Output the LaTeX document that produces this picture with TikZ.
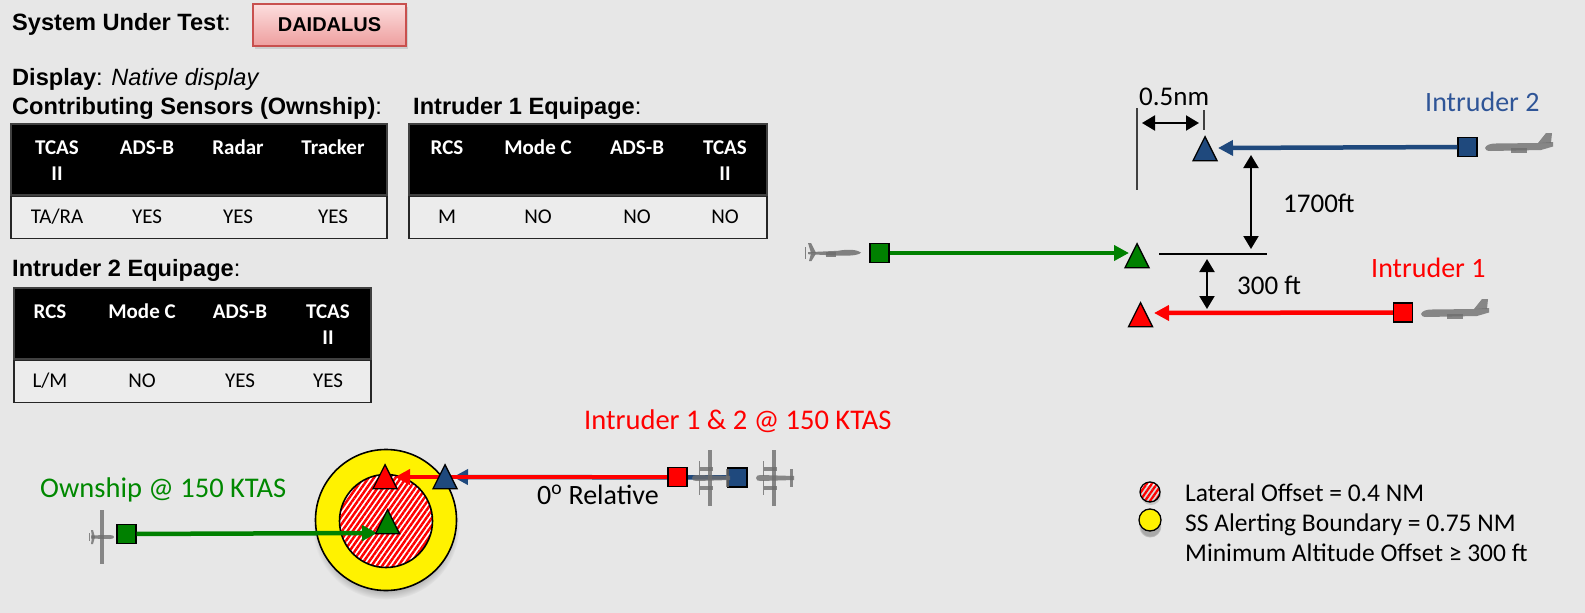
\documentclass[tikz,border=0pt]{standalone}
\usepackage{fontspec}
\setmainfont{Carlito}
\newfontfamily\arialfont{Liberation Sans}
\usetikzlibrary{arrows.meta,shapes.geometric,patterns.meta,shadows}

\definecolor{pagebg}{RGB}{231,231,231}
\definecolor{rowbg}{RGB}{236,236,236}
\definecolor{owngreen}{RGB}{0,128,0}
\definecolor{owntext}{RGB}{0,136,0}
\definecolor{intred}{RGB}{255,0,0}
\definecolor{intblue}{RGB}{31,73,125}
\definecolor{intbluetext}{RGB}{47,85,151}
\definecolor{sutedge}{RGB}{200,80,78}
\definecolor{suttop}{RGB}{252,222,222}
\definecolor{sutbot}{RGB}{238,158,158}
\definecolor{icongray}{RGB}{110,110,110}

\newcommand\arialhead{\arialfont\fontsize{23.6}{28}\selectfont}
\newcommand\cellfont{\fontsize{21}{25}\selectfont}
\newcommand\lblfont{\fontsize{27}{32}\selectfont}
\newcommand\namefont{\fontsize{28.5}{33}\selectfont}
\newcommand\legfont{\fontsize{25.5}{30}\selectfont}

\tikzset{
  heading/.style={inner sep=0, anchor=base west, font=\arialhead},
  sutbox/.style={draw=sutedge, line width=1.5pt, top color=suttop, bottom color=sutbot,
    minimum width=153pt, minimum height=42pt, inner sep=0,
    font=\arialfont\bfseries\fontsize{20}{24}\selectfont,
    drop shadow={opacity=0.25, shadow xshift=2pt, shadow yshift=-3pt}},
  headrow/.style={fill=black, draw=black!75, line width=1.5pt, anchor=north west,
    inner sep=0, minimum height=71pt},
  datarow/.style={fill=rowbg, draw=black!85, line width=1.8pt, anchor=north west,
    inner sep=0, minimum height=42pt},
  hcell/.style={inner sep=0, anchor=base, text=white, font=\cellfont\bfseries},
  dcell/.style={inner sep=0, anchor=base, text=black, font=\cellfont},
  sq/.style={draw=black, line width=1.3pt, minimum size=19pt, inner sep=0},
  tri/.style={draw=black, line width=1.3pt, isosceles triangle, isosceles triangle stretches,
    shape border rotate=90, minimum width=24pt, minimum height=24pt, inner sep=0, anchor=apex},
  track/.style={line width=4.5pt, -{Triangle[length=15pt,width=15pt]}},
  dimarrow/.style={line width=2pt, {Triangle[length=13pt,width=15pt]}-{Triangle[length=13pt,width=15pt]}},
  refline/.style={line width=1.6pt, draw=black!75},
  lbl/.style={inner sep=0, anchor=base west, font=\lblfont},
  leg/.style={inner sep=0, anchor=base west, font=\legfont},
  ssring/.style={circle, draw=black, line width=1.6pt, fill=yellow, inner sep=0,
    circular drop shadow={shadow xshift=0pt, shadow yshift=-6pt, shadow scale=1.04, opacity=0.6}},
  lathatch/.style={circle, draw=black, line width=1.6pt, inner sep=0, preaction={fill=white},
    pattern={Lines[angle=55,distance=4.4pt,line width=2.5pt]}, pattern color=red},
  % aircraft silhouettes
  pics/drone side/.style={code={
    \begin{scope}[fill=icongray, opacity=.85]
      \fill (-24,-0.8) -- (6,-2.2) .. controls (16,-4) and (25,-3.5) .. (29,-0.5)
            .. controls (27,2.5) and (16,3) .. (6,2.6) -- (-24,1.2) -- cycle;
      \fill (-21,0) -- (-24,-10) -- (-21,-10) -- (-16,0) -- cycle;
      \fill (-21,0.5) -- (-23,8) -- (-20.5,8) -- (-16,0.5) -- cycle;
      \fill (-27,-6) rectangle (-25.6,6);
      \fill (-6,-1.5) rectangle (4,3.5);
    \end{scope}}},
  pics/plane side/.style={code={
    \begin{scope}[fill=icongray, opacity=.8]
      \fill (-34,3) .. controls (-33,0) and (-29,-1.5) .. (-23,-1.5) -- (20,-2) -- (34,-3)
            -- (34,1.5) -- (22,5) -- (-28,6) .. controls (-32,6) and (-34,5) .. (-34,3) -- cycle;
      \fill (19,-2) -- (27,-12) -- (33,-12) -- (32,-2) -- cycle;
      \fill (-8,3) rectangle (8,7.5);
    \end{scope}}},
  pics/plane top/.style={code={
    \begin{scope}[fill=icongray, opacity=.8]
      \fill (-21,0) .. controls (-21,-2.5) and (-19,-3) .. (-16,-3) -- (17,-2) -- (17,2)
            -- (-16,3) .. controls (-19,3) and (-21,2.5) .. (-21,0) -- cycle;
      \fill (-5.5,-28) rectangle (-1.5,28);
      \fill (-13,-11.5) rectangle (0,-7.5);
      \fill (-13,7.5) rectangle (0,11.5);
      \fill (-14,-17) rectangle (-12.8,-2);
      \fill (-14,2) rectangle (-12.8,17);
      \fill (13,-9) rectangle (16,9);
    \end{scope}}},
  pics/drone top/.style={code={
    \begin{scope}[fill=icongray, opacity=.8]
      \fill (-1.8,-27) rectangle (1.8,27);
      \fill (-11,-1.6) -- (8,-2) .. controls (11,-2) and (12,-1) .. (12,0)
            .. controls (12,1) and (11,2) .. (8,2) -- (-11,1.6) -- cycle;
      \fill (-11,-7) -- (-9,-7) -- (-7,0) -- (-9,7) -- (-11,7) -- (-10,0) -- cycle;
      \fill (-13,-4) rectangle (-12,4);
    \end{scope}}},
}

\begin{document}
\begin{tikzpicture}[x=1pt,y=-1pt]
\useasboundingbox[fill=pagebg] (0,0) rectangle (1585,613);

% ---------- headings ----------
\node[heading] (sut) at (12,30.5) {\textbf{System Under Test}:};
\node[sutbox] (dai) at (329.5,25) {DAIDALUS};
\node[heading] (disp) at (12,85) {\textbf{Display}: \textit{Native display}};
\node[heading] (sens) at (12,114) {\textbf{Contributing Sensors (Ownship)}:};
\node[heading] (eq1) at (413,114) {\textbf{Intruder 1 Equipage}:};
\node[heading] (eq2) at (12,276) {\textbf{Intruder 2 Equipage}:};

% ---------- ownship sensors table ----------
\node[headrow, minimum width=376pt] (t1h) at (10,123) {};
\node[datarow, minimum width=376pt] (t1d) at (t1h.south west) {};
\node[hcell] (t1c1) at (57,154) {TCAS};
\node[hcell] (t1c1b) at (57,180) {II};
\node[hcell] (t1c2) at (147,154) {ADS-B};
\node[hcell] (t1c3) at (238,154) {Radar};
\node[hcell] (t1c4) at (333,154) {Tracker};
\node[dcell] (t1v1) at (57,223) {TA/RA};
\node[dcell] (t1v2) at (147,223) {YES};
\node[dcell] (t1v3) at (238,223) {YES};
\node[dcell] (t1v4) at (333,223) {YES};

% ---------- intruder 1 equipage table ----------
\node[headrow, minimum width=358pt] (t2h) at (408,123) {};
\node[datarow, minimum width=358pt] (t2d) at (t2h.south west) {};
\node[hcell] (t2c1) at (447,154) {RCS};
\node[hcell] (t2c2) at (538,154) {Mode C};
\node[hcell] (t2c3) at (637,154) {ADS-B};
\node[hcell] (t2c4) at (725,154) {TCAS};
\node[hcell] (t2c4b) at (725,180) {II};
\node[dcell] (t2v1) at (447,223) {M};
\node[dcell] (t2v2) at (538,223) {NO};
\node[dcell] (t2v3) at (637,223) {NO};
\node[dcell] (t2v4) at (725,223) {NO};

% ---------- intruder 2 equipage table ----------
\node[headrow, minimum width=357pt] (t3h) at (13,287) {};
\node[datarow, minimum width=357pt] (t3d) at (t3h.south west) {};
\node[hcell] (t3c1) at (50,318) {RCS};
\node[hcell] (t3c2) at (142,318) {Mode C};
\node[hcell] (t3c3) at (240,318) {ADS-B};
\node[hcell] (t3c4) at (328,318) {TCAS};
\node[hcell] (t3c4b) at (328,344) {II};
\node[dcell] (t3v1) at (50,387) {L/M};
\node[dcell] (t3v2) at (142,387) {NO};
\node[dcell] (t3v3) at (240,387) {YES};
\node[dcell] (t3v4) at (328,387) {YES};

% ---------- vertical geometry (side view) ----------
\coordinate (vA) at (1137,108); \coordinate (vB) at (1137,190);
\coordinate (vC) at (1204,110); \coordinate (vD) at (1204,130);
\coordinate (hA) at (1159,254); \coordinate (hB) at (1267,254);
\draw[refline] (vA) -- (vB);
\draw[refline] (vC) -- (vD);
\draw[line width=1.4pt] (hA) -- (hB);

\coordinate (dLa) at (1142,123); \coordinate (dLb) at (1199,123);
\coordinate (d17a) at (1251,155); \coordinate (d17b) at (1251,249);
\coordinate (d3a) at (1207,259); \coordinate (d3b) at (1207,309);
\draw[dimarrow] (dLa) -- (dLb);
\draw[dimarrow] (d17a) -- (d17b);
\draw[dimarrow] (d3a) -- (d3b);

\node[lbl] (l05) at (1139,105) {0.5nm};
\node[lbl] (l17) at (1283,212) {1700ft};
\node[lbl] (l3) at (1237,294) {300 ft};
\node[lbl, text=intbluetext, font=\fontsize{28}{32}\selectfont] (lI2) at (1425,111) {Intruder 2};
\node[lbl, text=intred, font=\fontsize{28}{32}\selectfont] (lI1) at (1371,277) {Intruder 1};

\pic at (832,253) {drone side};
\pic at (1519,145) {plane side};
\pic at (1455,311) {plane side};

\node[sq, fill=owngreen] (ownSq) at (879.5,253) {};
\node[sq, fill=intblue] (i2Sq) at (1467.5,147) {};
\node[sq, fill=intred] (i1Sq) at (1403,312.5) {};
\coordinate (ownTip) at (1129,253);
\coordinate (i2Tip) at (1218,148);
\coordinate (i1Tip) at (1154,313);
\draw[track, owngreen] (ownSq) -- (ownTip);
\draw[track, intblue] (i2Sq) -- (i2Tip);
\draw[track, intred] (i1Sq) -- (i1Tip);
\node[tri, fill=owngreen] (ownTri) at (1137,242) {};
\node[tri, fill=intblue] (i2Tri) at (1205,135) {};
\node[tri, fill=intred] (i1Tri) at (1140.5,301) {};

% ---------- top view encounter ----------
\node[ssring, minimum size=141pt] (ssb) at (386,520) {};
\node[lathatch, minimum size=93pt] (lat) at (386,521) {};

\node[lbl, text=owntext, font=\namefont] (lOwn) at (40,497) {Ownship @ 150 KTAS};
\node[lbl, text=intred, font=\namefont] (lInt) at (584,429) {Intruder 1 \& 2 @ 150 KTAS};
\node[lbl, font=\fontsize{28}{32}\selectfont] (lRel) at (537,504) {0\textsuperscript{o} Relative};

\node[sq, fill=intblue] (bSq) at (737.5,477.5) {};
\node[sq, fill=intred] (rSq) at (677.5,477) {};
\node[sq, fill=owngreen] (gSq) at (126.5,534) {};
\coordinate (bTip) at (453,477);
\coordinate (rTip) at (395,477);
\coordinate (gTip) at (377,533);
\draw[track, intblue] (bSq) -- (bTip);
\draw[track, intred] (rSq) -- (rTip);
\draw[track, owngreen] (gSq) -- (gTip);
\node[sq, fill=intred] (rSq2) at (rSq) {};

\pic at (713,478) {plane top};
\pic at (777,478) {plane top};
\pic at (102,537) {drone top};

\node[tri, fill=intred] (rTri) at (385,463) {};
\node[tri, fill=intblue] (bTri) at (445,463) {};
\node[tri, fill=owngreen] (gTri) at (387.5,508) {};

% ---------- legend ----------
\node[lathatch, line width=1.3pt, minimum size=20pt,
  pattern={Lines[angle=55,distance=4.2pt,line width=2.3pt]},
  drop shadow={opacity=0.3, shadow xshift=1pt, shadow yshift=-3pt}] (legLat) at (1150,492) {};
\node[ssring, line width=1.3pt, minimum size=22pt] (legSS) at (1150,520) {};
\node[leg] (legT1) at (1185,501) {Lateral Offset = 0.4 NM};
\node[leg] (legT2) at (1185,531) {SS Alerting Boundary = 0.75 NM};
\node[leg] (legT3) at (1185,561) {Minimum Altitude Offset ≥ 300 ft};
\end{tikzpicture}
\end{document}
